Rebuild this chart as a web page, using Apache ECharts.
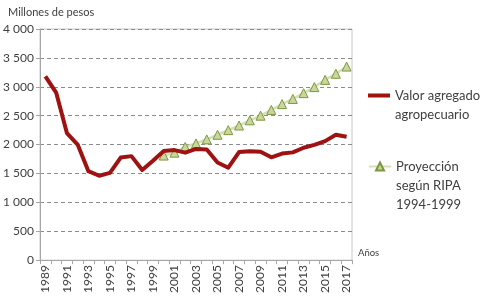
<!DOCTYPE html>
<html><head><meta charset="utf-8">
<script src="https://cdn.jsdelivr.net/npm/echarts@6/dist/echarts.min.js"></script>
<style>html,body{margin:0;padding:0;background:#fff}#c{width:482px;height:296px}</style>
</head><body><div id="c"></div>
<script>
const years = ['1989','1990','1991','1992','1993','1994','1995','1996','1997','1998','1999','2000','2001','2002','2003','2004','2005','2006','2007','2008','2009','2010','2011','2012','2013','2014','2015','2016','2017'];
const valorAgregado = [3180,2900,2200,2000,1540,1460,1510,1775,1800,1560,1720,1890,1905,1860,1925,1915,1690,1600,1870,1885,1875,1780,1845,1865,1945,1995,2060,2170,2135];
const proyeccion = [null,null,null,null,null,null,null,null,null,null,null,1810,1860,1960,2020,2090,2170,2250,2330,2420,2500,2600,2700,2790,2890,2995,3120,3225,3350];
const yTicks = [0,500,1000,1500,2000,2500,3000,3500,4000];
const serieNames = ['Valor agregado agropecuario','Proyección según RIPA 1994-1999'];
const legendLabels = {'Valor agregado agropecuario':'\nValor agregado\nagropecuario','Proyección según RIPA 1994-1999':'\n\nProyección\nsegún RIPA\n1994-1999'};

const chart = echarts.init(document.getElementById('c'));
const font = 'Lato';
chart.setOption({
  animation:false,
  textStyle:{fontFamily:font},
  title:{text:'Millones de pesos',left:8,top:7,padding:0,textStyle:{fontSize:11,fontWeight:'normal',color:'#404040',fontFamily:font}},
  grid:{left:40,right:130,top:29,bottom:35,show:true,borderColor:'#c8c8c8',borderWidth:1},
  legend:[{
    data:[{name:serieNames[0],icon:'path://M0,0L22,0L22,4L0,4Z'}],orient:'vertical',left:368,top:67,padding:0,itemWidth:22,itemHeight:4,
    formatter:n=>legendLabels[n],
    textStyle:{fontSize:13,color:'#404040',lineHeight:19,fontFamily:font}
  },{
    data:[serieNames[1]],orient:'vertical',left:368,top:119,padding:0,itemWidth:22,itemHeight:10,
    formatter:n=>legendLabels[n],
    textStyle:{fontSize:13,color:'#404040',lineHeight:19,fontFamily:font}
  }],
  xAxis:{type:'category',data:years,boundaryGap:true,
    name:'Años',nameGap:6,nameTextStyle:{fontSize:9.5,color:'#404040',verticalAlign:'bottom',padding:[0,0,2,0]},
    axisLine:{lineStyle:{color:'#a6a6a6'}},
    axisTick:{show:true,interval:0,length:4,lineStyle:{color:'#a6a6a6'}},
    axisLabel:{interval:1,rotate:90,fontSize:12,color:'#404040',margin:5}},
  yAxis:{type:'value',min:yTicks[0],max:yTicks[yTicks.length-1],interval:500,
    axisLine:{show:true,lineStyle:{color:'#a6a6a6'}},
    axisTick:{show:true,length:4,lineStyle:{color:'#a6a6a6'}},
    axisLabel:{fontSize:12,color:'#404040',margin:6,formatter:v=>String(v).replace(/\B(?=(\d{3})+(?!\d))/g,' ')},
    splitLine:{show:true,lineStyle:{color:'#8c8c8c',type:[4,3],width:1}}},
  series:[
    {name:serieNames[1],type:'line',data:proyeccion,symbol:'triangle',symbolSize:9,showAllSymbol:true,z:2,
     lineStyle:{color:'#d3e0b5',width:2.5},
     itemStyle:{color:'#c6d89a',borderColor:'#7f9640',borderWidth:1}},
    {name:serieNames[0],type:'line',data:valorAgregado,symbol:'none',z:3,
     lineStyle:{color:'#9e1212',width:4,join:'round'},itemStyle:{color:'#9e1212'}}
  ]
});
</script></body></html>
